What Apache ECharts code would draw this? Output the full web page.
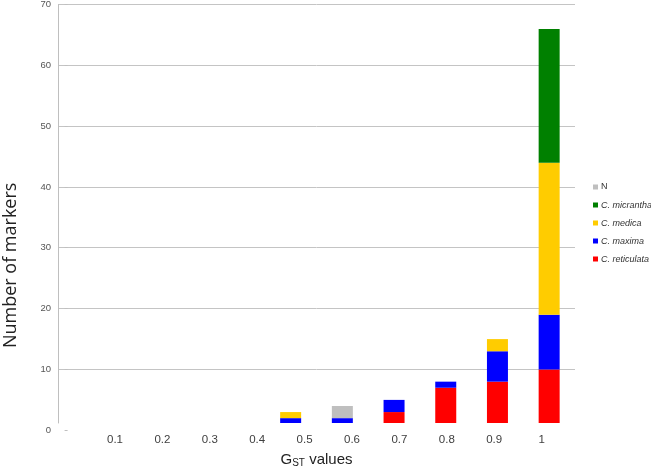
<!DOCTYPE html>
<html><head><meta charset="utf-8">
<script src="https://cdn.jsdelivr.net/npm/echarts@6/dist/echarts.min.js"></script>
<style>html,body{margin:0;padding:0;background:#fff}#c{width:651px;height:470px}</style>
</head><body><div id="c"></div>
<script>
var categories = ['0.1','0.2','0.3','0.4','0.5','0.6','0.7','0.8','0.9','1'];
var reticulata = [0,0,0,0,0,0,3,7,8,10];
var maxima     = [0,0,0,1,2,2,2,1,5,9];
var medica     = [0,1,1,0,1,0,0,0,2,25];
var micrantha  = [0,0,0,0,0,0,0,0,0,22];
var nSeries    = [0,0,0,0,0,2,0,0,0,0];
var yTicks = [0,10,20,30,40,50,60,70];
var labelPositions = [1,2,3,4,5,6,7,8,9,10];

var FONT = 'Liberation Sans';
var chart = echarts.init(document.getElementById('c'));
function bar(name, data, color){
  return {name:name, type:'bar', stack:'s', xAxisIndex:1, yAxisIndex:1, data:data,
    barWidth:21, itemStyle:{color:color}, clip:true, emphasis:{disabled:true}};
}
var gridColors = yTicks.map(function(v){ return v === 0 ? 'rgba(0,0,0,0)' : '#c4c4c4'; });
chart.setOption({
  animation:false,
  textStyle:{fontFamily:FONT},
  grid:[
    {left:58, right:76, top:4.7, bottom:40, outerBoundsMode:'none', containLabel:false},
    {left:58, right:76, top:4.7, bottom:47, outerBoundsMode:'none', containLabel:false}
  ],
  legend:{
    orient:'vertical', left:593, top:182.5, padding:0, itemWidth:5, itemHeight:5, itemGap:9,
    icon:'rect',
    textStyle:{fontSize:9, color:'#333', fontFamily:FONT, padding:[0,0,0,-2]},
    data:[
      {name:'N'},
      {name:'C. micrantha', textStyle:{fontStyle:'italic'}},
      {name:'C. medica', textStyle:{fontStyle:'italic'}},
      {name:'C. maxima', textStyle:{fontStyle:'italic'}},
      {name:'C. reticulata', textStyle:{fontStyle:'italic'}}
    ]
  },
  xAxis:[
    {gridIndex:0, type:'value', min:-0.2025, max:10.705, position:'bottom',
     axisLine:{show:false}, axisTick:{show:false}, splitLine:{show:false},
     axisLabel:{customValues:labelPositions, formatter:function(v){return categories[Math.round(v)-1];},
       fontSize:11.5, color:'#404040', margin:4},
     name:'{g|G}{s|ST}{g| values}', nameLocation:'middle', nameGap:22,
     nameTextStyle:{rich:{g:{fontSize:15, color:'#222', fontFamily:FONT}, s:{fontSize:10, color:'#222', fontFamily:FONT, verticalAlign:'bottom', padding:[6,0,0,0]}}}
    },
    {gridIndex:1, type:'category', data:categories, position:'bottom', show:false}
  ],
  yAxis:[
    {gridIndex:0, type:'value', min:0, max:70, interval:10,
     axisLine:{show:false}, axisTick:{show:true, length:3, lineStyle:{color:'#bfbfbf'}},
     splitLine:{lineStyle:{color:gridColors, width:1}},
     axisLabel:{fontSize:9.5, color:'#555', margin:7, formatter:function(v){return yTicks.indexOf(v)>=0?String(v):'';}},
     name:'Number of markers', nameLocation:'middle', nameGap:38,
     nameTextStyle:{fontSize:18, color:'#222', fontFamily:'Open Sans', padding:[0,96,0,0]}
    },
    {gridIndex:1, type:'value', min:1.2, max:70,
     axisLine:{show:true, lineStyle:{color:'#bfbfbf', width:1}}, axisTick:{show:false},
     axisLabel:{show:false}, splitLine:{show:false}}
  ],
  series:[
    bar('C. reticulata', reticulata, '#ff0000'),
    bar('C. maxima', maxima, '#0000ff'),
    bar('C. medica', medica, '#ffcc00'),
    bar('C. micrantha', micrantha, '#008000'),
    bar('N', nSeries, '#bfbfbf')
  ]
});
</script></body></html>
